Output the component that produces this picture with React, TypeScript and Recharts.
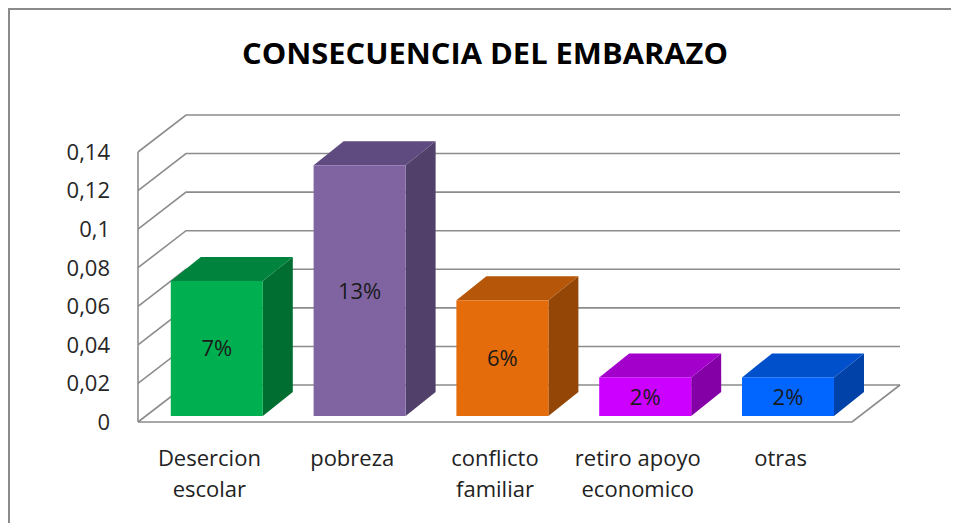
import React from "react";
import { BarChart, Bar, XAxis, YAxis, CartesianGrid, ReferenceLine } from "recharts";

const categories = ["Desercion\nescolar", "pobreza", "conflicto\nfamiliar", "retiro apoyo\neconomico", "otras"];
const values = [0.07, 0.13, 0.06, 0.02, 0.02];
const yTicks = [0, 0.02, 0.04, 0.06, 0.08, 0.1, 0.12, 0.14];

// colores de cada barra: frente, tapa, lado
const frontColors = ["#00B050", "#8064A2", "#E46C0A", "#CC00FF", "#0066FF"];
const topColors = ["#00843D", "#5F4B80", "#B55608", "#A300CC", "#0050CC"];
const sideColors = ["#006E30", "#51406A", "#934606", "#8400A6", "#0042A8"];

const data = categories.map((name, i) => ({ name, value: values[i] }));

const FONT = "'Open Sans', sans-serif";
const GRID = "#8c8c8c";

// profundidad del "piso" 3D y de las barras
const WALL_DX = 48;
const WALL_DY = -37;
const BAR_OX = 7.8;
const BAR_OY = -6;
const BAR_DX = 30;
const BAR_DY = -24;

const fmtTick = (v: number) => String(v).replace(".", ",");

const Bar3D = (props: any) => {
  const { x, y, width, height, index, payload } = props;
  const X = x + BAR_OX;
  const Y = y + BAR_OY;
  const W = width;
  const H = height;
  const top = `M${X},${Y} L${X + BAR_DX},${Y + BAR_DY} L${X + W + BAR_DX},${Y + BAR_DY} L${X + W},${Y} Z`;
  const side = `M${X + W},${Y} L${X + W + BAR_DX},${Y + BAR_DY} L${X + W + BAR_DX},${Y + H + BAR_DY} L${X + W},${Y + H} Z`;
  return (
    <g>
      <path d={side} fill={sideColors[index]} />
      <path d={top} fill={topColors[index]} />
      <rect x={X} y={Y} width={W} height={H} fill={frontColors[index]} />
      <text
        x={X + W / 2}
        y={Y + H / 2}
        dy="0.36em"
        textAnchor="middle"
        fontFamily={FONT}
        fontSize={22}
        fill="#1a1a1a"
      >
        {`${Math.round(payload.value * 100)}%`}
      </text>
    </g>
  );
};

const CategoryTick = (props: any) => {
  const { x, y, payload } = props;
  const lines = String(payload.value).split("\n");
  return (
    <text x={x} y={y + 44} textAnchor="middle" fontFamily={FONT} fontSize={22} fill="#222">
      {lines.map((l, i) => (
        <tspan key={i} x={x} dy={i === 0 ? 0 : 31}>
          {l}
        </tspan>
      ))}
    </text>
  );
};

const gridLine = (props: any) => {
  const { x1, y1, x2, index } = props;
  const d = `M${x1},${y1} L${x1 + WALL_DX},${y1 + WALL_DY} L${x2 + WALL_DX},${y1 + WALL_DY}`;
  return <path key={`g-${index}`} d={d} fill="none" stroke={GRID} strokeWidth={1.6} />;
};

const FloorEdge = (props: any) => {
  const { x1, y1, x2 } = props;
  const d = `M${x1},${y1} L${x2},${y1} L${x2 + WALL_DX},${y1 + WALL_DY}`;
  return <path d={d} fill="none" stroke={GRID} strokeWidth={1.6} />;
};

export default function App() {
  return (
    <div style={{ position: "relative", width: 951, height: 515 }}>
      <BarChart
        width={951}
        height={515}
        data={data}
        margin={{ top: 144, right: 107, bottom: 41, left: 0 }}
      >
        <CartesianGrid vertical={false} horizontal={gridLine} />
        <XAxis
          dataKey="name"
          height={60}
          axisLine={false}
          tickLine={false}
          tickSize={0}
          tickMargin={0}
          interval={0}
          tick={<CategoryTick />}
        />
        <YAxis
          width={130}
          domain={[0, 0.14]}
          ticks={yTicks}
          interval={0}
          tickFormatter={fmtTick}
          axisLine={{ stroke: GRID, strokeWidth: 1.6 }}
          tickLine={false}
          tickMargin={22}
          tick={{ fill: "#262626", fontSize: 22, fontFamily: FONT }}
        />
        <ReferenceLine y={0} shape={FloorEdge} />
        <Bar dataKey="value" barSize={92} isAnimationActive={false} shape={Bar3D} />
      </BarChart>
      <svg width={951} height={100} style={{ position: "absolute", left: 0, top: 0 }}>
        <text
          x={477}
          y={56}
          textAnchor="middle"
          fontFamily={FONT}
          fontWeight={700}
          fontSize={29}
          fill="#000"
          textLength={486}
          lengthAdjust="spacingAndGlyphs"
        >
          CONSECUENCIA DEL EMBARAZO
        </text>
      </svg>
      <div
        style={{
          position: "absolute",
          left: 0,
          top: 0,
          width: 951,
          height: 515,
          boxSizing: "border-box",
          borderTop: "2px solid #8a8a8a",
          borderLeft: "2px solid #8a8a8a",
          pointerEvents: "none",
        }}
      />
    </div>
  );
}
